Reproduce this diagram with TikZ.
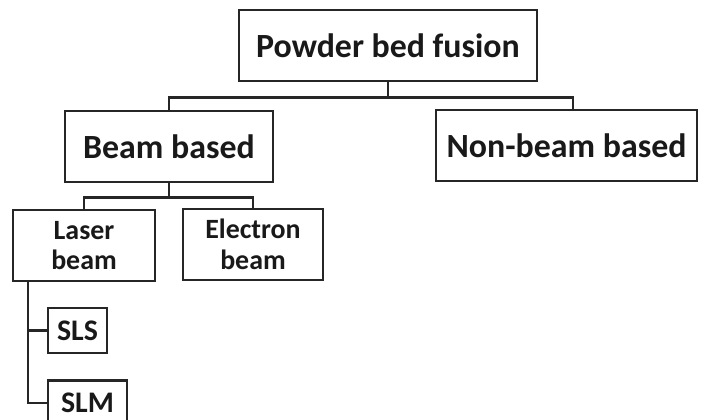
\documentclass[tikz,border=0pt]{standalone}
\usepackage{fontspec}
\setmainfont{Carlito}
\begin{document}
\begin{tikzpicture}[x=1bp,y=-1bp,
  box/.style={draw=black!85, line width=2.8bp, inner sep=0pt, align=center, text=black!90},
  big/.style={box, font=\fontsize{34}{40}\selectfont\bfseries, minimum height=71bp},
  mid/.style={box, font=\fontsize{28}{31}\selectfont\bfseries, minimum height=71bp},
  small/.style={box, font=\fontsize{30}{34}\selectfont\bfseries, minimum height=45bp},
  conn/.style={draw=black!85, line width=2.8bp}]
\useasboundingbox (0,0) rectangle (701,419);
\clip (0,0) rectangle (701,419);
\node[big, minimum width=298bp] (root) at (388,45.5) {Powder bed fusion};
\node[big, minimum width=208bp] (beam) at (169,146.5) {Beam based};
\node[big, minimum width=261bp] (nonbeam) at (566.5,145.5) {Non-beam based};
\node[mid, minimum width=142bp] (laser) at (84,245.5) {Laser\\beam};
\node[mid, minimum width=140bp] (electron) at (253,244.5) {Electron\\beam};
\node[small, minimum width=59bp] (sls) at (77.5,330.5) {SLS};
\node[small, minimum width=79bp] (slm) at (87.5,403) {SLM};
\coordinate (rbus) at ([yshift=-15bp]root.south);
\coordinate (bbus) at ([yshift=-14bp]beam.south);
\draw[conn] (root.south) -- (rbus);
\draw[conn] (beam.north) |- (rbus) -| ([xshift=6.5bp]nonbeam.north);
\draw[conn] (beam.south) -- (bbus);
\draw[conn] (laser.north) |- (bbus) -| (electron.north);
\draw[conn] ([xshift=-56bp]laser.south) |- (sls.west);
\draw[conn] ([xshift=-56bp]laser.south) |- (slm.west);
\end{tikzpicture}
\end{document}
